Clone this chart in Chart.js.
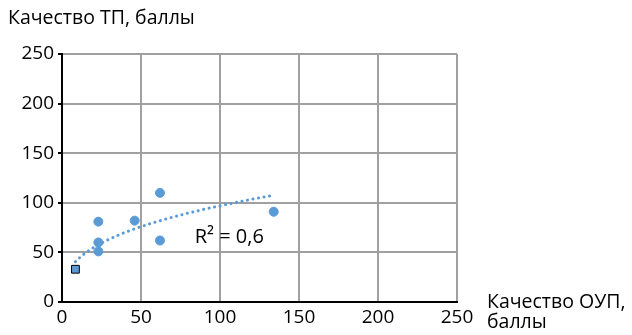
<!DOCTYPE html>
<html>
<head>
<meta charset="utf-8">
<script src="https://cdn.jsdelivr.net/npm/chart.js@4"></script>
<style>
  html, body { margin: 0; padding: 0; background: #fff; }
  #wrap { width: 632px; height: 335px; position: relative; }
</style>
</head>
<body>
<div id="wrap"><canvas id="chart"></canvas></div>
<script>
// Качество ОУП (x) и качество ТП (y), баллы
const oupScores = [23, 23, 23, 46, 62, 62, 134];
const tpScores = [81, 60, 51, 82, 110, 62, 91];
// отдельно выделенная точка (квадрат)
const markedOup = [8.5];
const markedTp = [33];
const axisTicks = [0, 50, 100, 150, 200, 250];
const yTitle = "Качество ТП, баллы";
const xTitle = ["Качество ОУП,", "баллы"];
const r2Label = "R² = 0,6";

const blue = "#5b9bd5";
const font = "'Open Sans', sans-serif";

// степенная линия тренда (МНК в логарифмах), как в Excel
const allX = markedOup.concat(oupScores);
const allY = markedTp.concat(tpScores);
const lx = allX.map(Math.log), ly = allY.map(Math.log);
const mx = lx.reduce((a, b) => a + b, 0) / lx.length;
const my = ly.reduce((a, b) => a + b, 0) / ly.length;
let sxy = 0, sxx = 0;
lx.forEach((v, i) => { sxy += (v - mx) * (ly[i] - my); sxx += (v - mx) * (v - mx); });
const k = sxy / sxx;
const c = Math.exp(my - k * mx);
const xMin = Math.min(...allX), xMax = Math.max(...allX);
const trend = [];
for (let i = 0; i <= 60; i++) {
    const x = xMin + (xMax - xMin) * i / 60;
    trend.push({ x: x, y: c * Math.pow(x, k) });
}

const labelsPlugin = {
    id: "labels",
    afterDraw(chart) {
        const ctx = chart.ctx;
        const area = chart.chartArea;
        const xs = chart.scales.x, ys = chart.scales.y;
        ctx.save();
        ctx.fillStyle = "#000";
        ctx.font = "19.5px " + font;
        ctx.textBaseline = "middle";
        ctx.textAlign = "left";
        ctx.fillText(yTitle, 8, 18);
        ctx.fillText(xTitle[0], area.right + 30, area.bottom);
        ctx.fillText(xTitle[1], area.right + 30, area.bottom + 20);
        ctx.font = "20px " + font;
        ctx.fillText(r2Label, xs.getPixelForValue(84), ys.getPixelForValue(65));
        ctx.restore();
    }
};

new Chart(document.getElementById("chart"), {
    type: "scatter",
    data: {
        datasets: [
            {
                data: oupScores.map((x, i) => ({ x: x, y: tpScores[i] })),
                backgroundColor: blue,
                borderColor: blue,
                pointRadius: 4.5,
                pointHoverRadius: 4.5,
                order: 2
            },
            {
                data: markedOup.map((x, i) => ({ x: x, y: markedTp[i] })),
                pointStyle: "rect",
                backgroundColor: blue,
                borderColor: "#000",
                borderWidth: 1,
                pointRadius: 5.5,
                order: 1
            },
            {
                type: "line",
                data: trend,
                showLine: true,
                borderColor: blue,
                borderWidth: 3,
                borderDash: [0.1, 5.5],
                borderCapStyle: "round",
                pointRadius: 0,
                fill: false,
                order: 3
            }
        ]
    },
    options: {
        responsive: true,
        maintainAspectRatio: false,
        animation: false,
        layout: { padding: { top: 54, right: 175, bottom: 0, left: 0 } },
        plugins: {
            legend: { display: false },
            tooltip: { enabled: false }
        },
        scales: {
            x: {
                type: "linear",
                min: 0, max: 250,
                afterBuildTicks: s => { s.ticks = axisTicks.map(v => ({ value: v })); },
                afterFit: s => { s.height = 33; },
                grid: { color: "#a0a0a0", lineWidth: 2, drawTicks: false },
                border: { color: "#000", width: 2 },
                ticks: { color: "#000", font: { family: font, size: 19 }, padding: 4 }
            },
            y: {
                type: "linear",
                min: 0, max: 250,
                afterBuildTicks: s => { s.ticks = axisTicks.map(v => ({ value: v })); },
                afterFit: s => { s.width = 62; },
                grid: { color: "#a0a0a0", lineWidth: 2, tickColor: "#000", tickLength: 4 },
                border: { color: "#000", width: 2 },
                ticks: { color: "#000", font: { family: font, size: 19 }, padding: 4 }
            }
        }
    },
    plugins: [labelsPlugin]
});
</script>
</body>
</html>
